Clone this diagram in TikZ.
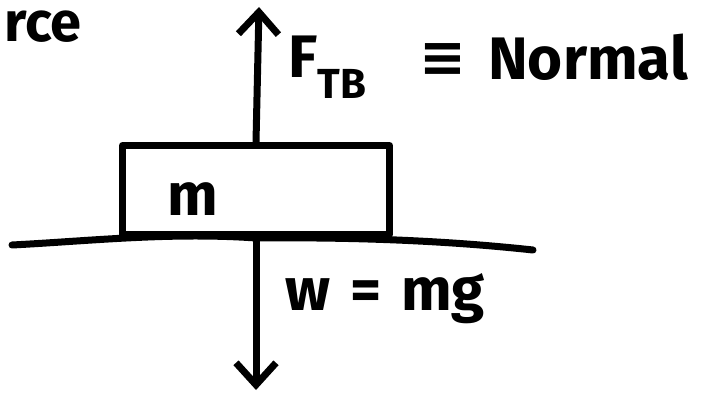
\documentclass[tikz,border=0pt]{standalone}
\usepackage{fontspec}
\setmainfont{Fira Sans}
\newfontfamily\symfont{DejaVu Sans}
\usetikzlibrary{arrows.meta}

\begin{document}
\begin{tikzpicture}[
  x=1pt,y=-1pt,
  ink/.style={line width=7pt, line cap=round, line join=round},
  force/.style={ink, -{Straight Barb[length=22pt,width=40pt]}},
  hand/.style={font=\fontsize{60}{60}\selectfont\bfseries, inner sep=0pt},
  blockbox/.style={ink, draw, minimum width=267pt, minimum height=89pt, inner sep=0pt}
]
\useasboundingbox (0,0) rectangle (714,398);

\def\xarr{256}

% block on the floor
\node[blockbox] (block) at (\xarr,190) {};
\node[hand, anchor=base west] (mass) at (167,215) {m};

\coordinate (gL) at (12,245);
\coordinate (gR) at (533,250);
\draw[ink] (gL) .. controls (90,241) and (170,232) .. (block.south)
  .. controls (360,237) and (450,241) .. (gR);

% forces
\coordinate (ftip) at (259,7);
\coordinate (wtip) at (\xarr,390);
\draw[force] (block.north) -- (ftip);
\draw[force] (block.south) -- (wtip);

% labels
\node[hand, font=\fontsize{56}{56}\selectfont\bfseries, anchor=base west] (rce) at (4,42) {rce};
\node[hand, anchor=base west] (ftb) at (288,78) {F\textsubscript{TB}};
\node[hand, font=\fontsize{56}{56}\selectfont\symfont\bfseries] (equiv) at (443,60) {≡};
\node[hand, anchor=base west] (normal) at (488,80) {Normal};
\node[hand, anchor=base west] (weight) at (285,310) {w\,\,=\,\,mg};
\end{tikzpicture}
\end{document}
